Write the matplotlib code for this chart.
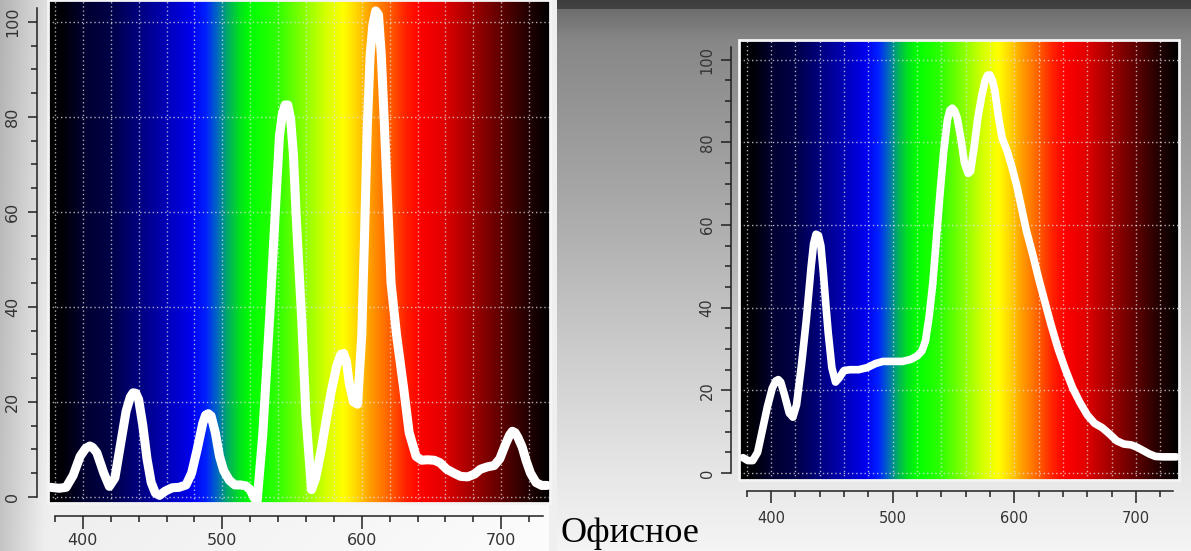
import numpy as np
import matplotlib
matplotlib.use('Agg')
import matplotlib.pyplot as plt
from matplotlib.colors import LinearSegmentedColormap, Normalize
from matplotlib.patches import Rectangle
from matplotlib.ticker import MultipleLocator

# spectrum, left panel (fluorescent lamp)
left_nm = [377, 383, 388, 393, 398, 402, 405, 407, 410, 415, 419, 423, 427, 431, 434,
           436, 438, 440, 443, 446, 449, 452, 455, 459, 464, 469, 474, 478, 482, 486,
           488, 490, 492, 495, 498, 501, 505, 509, 513, 517, 520, 523, 525, 529, 534,
           538, 541, 543, 545, 547, 549, 551, 553, 557, 560, 564, 567, 571, 575, 578,
           582, 585, 587, 589, 591, 594, 597, 600, 602, 604, 606, 608, 610, 612, 614,
           616, 618, 621, 625, 630, 634, 639, 643, 647, 652, 656, 661, 666, 671, 676,
           681, 685, 690, 695, 699, 703, 706, 708, 710, 712, 715, 718, 721, 725, 729, 733]
left_val = [2.0, 1.8, 2.0, 4.5, 8.5, 10.2, 10.7, 10.4, 9.3, 5.0, 2.2, 4.0, 11.0, 18.0, 21.0,
            21.9, 21.8, 20.5, 15.0, 8.0, 3.0, 0.8, 0.3, 1.2, 1.9, 2.0, 2.5, 5.0, 10.0, 15.5,
            17.2, 17.5, 17.0, 13.5, 8.5, 5.5, 3.5, 2.5, 2.5, 2.3, 1.5, -0.3, -0.8, 13.0, 38.0,
            60.0, 76.0, 80.5, 82.5, 82.5, 79.5, 72.0, 59.0, 37.0, 17.0, 1.5, 4.0, 10.0, 17.0, 22.0,
            27.5, 30.0, 30.2, 28.5, 24.0, 20.0, 19.5, 34.0, 55.0, 78.0, 93.0, 99.5, 102.3, 101.5, 93.0,
            80.0, 66.0, 45.0, 34.0, 23.0, 13.5, 8.5, 7.7, 7.8, 7.7, 7.2, 5.8, 5.0, 4.3, 4.2,
            4.8, 5.8, 6.3, 6.6, 8.0, 11.0, 13.0, 13.8, 13.5, 12.5, 10.5, 7.5, 5.0, 3.0, 2.4, 2.4]

# spectrum, right panel
right_nm = [377, 381, 385, 389, 393, 397, 401, 404, 406, 408, 411, 415, 418, 421, 425,
            429, 433, 435, 437, 439, 441, 443, 445, 447, 450, 453, 456, 460, 465, 472, 479,
            486, 492, 500, 508, 515, 520, 524, 527, 530, 533, 536, 539, 542, 545,
            547, 549, 551, 553, 556, 559, 562, 564, 567, 570, 573, 576, 578, 580, 582, 584,
            587, 590, 594, 598, 602, 606, 610, 615, 620, 625, 630, 636, 642, 648,
            654, 660, 666, 672, 678, 684, 690, 696, 701, 706, 711, 716, 722, 728, 733]
right_val = [3.7, 3.0, 3.0, 5.0, 10.5, 16.0, 20.5, 22.3, 22.6, 22.0, 19.0, 14.5, 13.5, 16.5, 26.0,
             37.0, 50.0, 55.5, 57.8, 57.5, 55.0, 48.5, 41.0, 34.0, 25.5, 22.0, 23.0, 24.8, 25.0, 25.0, 25.5,
             26.5, 27.0, 27.0, 27.0, 27.5, 28.3, 29.5, 32.0, 38.0, 46.0, 57.0, 68.0, 78.0, 85.5,
             87.8, 88.3, 87.6, 86.0, 81.0, 75.0, 72.5, 73.0, 79.0, 86.0, 91.0, 95.0, 96.3, 96.3, 95.0, 92.5,
             86.0, 81.0, 78.0, 74.0, 69.5, 64.0, 58.5, 53.0, 47.0, 41.5, 36.0, 30.0, 25.0, 20.5,
             17.0, 14.0, 12.0, 11.0, 9.5, 7.8, 7.0, 6.8, 6.2, 5.4, 4.6, 4.0, 3.9, 3.9, 3.9]

# colour of the light, by wavelength
spec_nm = [375, 385, 400, 420, 440, 460, 478, 488, 496, 504, 512, 520, 540, 560,
           575, 587, 596, 606, 620, 632, 642, 660, 680, 700, 718, 735]
spec_colors = ['#000000', '#000008', '#000030', '#000048', '#000080', '#0000b8',
               '#0000f0', '#0020ff', '#0068c0', '#00b060', '#00e020', '#00ff00',
               '#30ff00', '#90ff00', '#d8ff00', '#ffff00', '#ffd800', '#ffa000',
               '#ff6000', '#ff2000', '#ff0000', '#e00000', '#a00000', '#600000',
               '#280000', '#000000']

caption = 'Офисное'

pos = (np.array(spec_nm) - spec_nm[0]) / (spec_nm[-1] - spec_nm[0])
spec_cmap = LinearSegmentedColormap.from_list('spec', list(zip(pos, spec_colors)))
spec_norm = Normalize(spec_nm[0], spec_nm[-1])

fig = plt.figure(figsize=(11.91, 5.51), dpi=100)

# gray photo background
H, W = 551, 1191
yy, xx = np.mgrid[0:H, 0:W]
val = np.interp(xx, [0, 45, 556], [0.70, 0.87, 0.92]) + 0.07 * yy / H
right_bg = np.interp(yy, [0, 8, 9, 40, 200, 350, 480, 551],
                     [0.24, 0.26, 0.43, 0.53, 0.66, 0.80, 0.91, 0.96])
val = np.where(xx >= 557, right_bg, val)
val = np.where((xx >= 549) & (xx < 557), 0.94, val)
val = np.clip(val, 0, 1)
bg = np.dstack([val, val, val])
bgax = fig.add_axes([0, 0, 1, 1])
bgax.imshow(bg, aspect='auto', extent=(0, 1, 0, 1))
bgax.axis('off')


def panel(rect, nm, vals, xlim, ylim, lw, fs, xoff, yoff, xpad, ypad, xlen, ylen):
    ax = fig.add_axes(rect)
    grad = np.linspace(xlim[0], xlim[1], 900)[None, :]
    ax.imshow(grad, cmap=spec_cmap, norm=spec_norm, aspect='auto',
              extent=(xlim[0], xlim[1], ylim[0], ylim[1]),
              interpolation='bilinear', zorder=0)
    ax.plot(nm, vals, color='white', lw=lw, solid_joinstyle='round',
            solid_capstyle='round', zorder=3)
    ax.set_xlim(xlim)
    ax.set_ylim(ylim)

    ax.xaxis.set_major_locator(MultipleLocator(100))
    ax.xaxis.set_minor_locator(MultipleLocator(20))
    ax.set_yticks(range(0, 101, 20))
    ax.yaxis.set_minor_locator(MultipleLocator(5))

    gkw = dict(color='#e4e4e4', alpha=0.75, linestyle=(0, (1, 2)), linewidth=1.0)
    ax.grid(True, which='both', axis='x', **gkw)
    ax.grid(True, which='major', axis='y', **gkw)
    ax.set_axisbelow(False)
    for gl in ax.get_xgridlines() + ax.get_ygridlines():
        gl.set_zorder(1)

    for s in ['top', 'right']:
        ax.spines[s].set_visible(False)
    ax.spines['left'].set_position(('outward', yoff))
    ax.spines['bottom'].set_position(('outward', xoff))
    ax.spines['left'].set_bounds(0, 103)
    ax.spines['bottom'].set_bounds(380, 730)
    for s in ['left', 'bottom']:
        ax.spines[s].set_color('#202020')
        ax.spines[s].set_linewidth(1.1)

    ax.tick_params(which='both', direction='out', color='#202020', width=1.1,
                   labelcolor='#333333', labelsize=fs)
    ax.tick_params(axis='x', which='major', length=xlen[0], pad=xpad)
    ax.tick_params(axis='x', which='minor', length=xlen[1])
    ax.tick_params(axis='y', which='major', length=ylen[0], pad=ypad, labelrotation=90)
    ax.tick_params(axis='y', which='minor', length=ylen[1])
    plt.setp(ax.get_yticklabels(), va='center')

    ax.add_patch(Rectangle((0, 0), 1, 1, transform=ax.transAxes, fill=False,
                           edgecolor='#f4f4f4', lw=2.0, clip_on=False, zorder=4))
    return ax


panel([48 / 1191, 1 - 503 / 551, 502 / 1191, 503 / 551], left_nm, left_val,
      (375, 735), (-1.3, 104.6), lw=6.5, fs=11.5, xoff=9, yoff=8,
      xpad=3.5, ypad=5.5, xlen=(9, 4.5), ylen=(6.5, 4.5))

panel([739 / 1191, 1 - 480 / 551, 440 / 1191, 440 / 551], right_nm, right_val,
      (373.7, 735.3), (-1.7, 104.8), lw=5.5, fs=10.5, xoff=8, yoff=6,
      xpad=5.5, ypad=4.5, xlen=(8.5, 4), ylen=(7, 4.5))

fig.text(561 / 1191, 1 - 542 / 551, caption, family=['Liberation Serif', 'DejaVu Serif'],
         fontsize=26, color='black', ha='left', va='baseline')

fig.savefig('out.png', dpi=100)
